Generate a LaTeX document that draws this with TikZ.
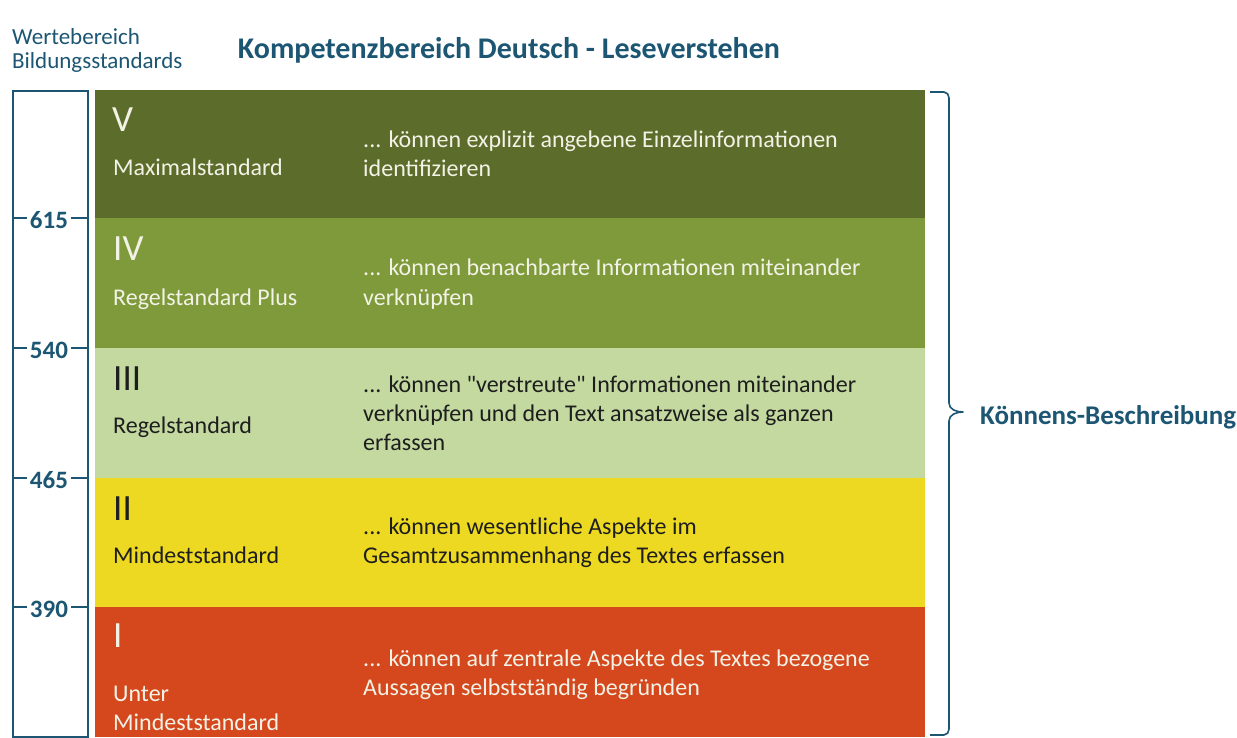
\documentclass[tikz,border=0pt]{standalone}
\usepackage{fontspec}
\setmainfont{Carlito}
\definecolor{tealblue}{HTML}{1C5673}
\definecolor{cV}{HTML}{5C6D2B}
\definecolor{cIV}{HTML}{7F9A3B}
\definecolor{cIII}{HTML}{C3D9A0}
\definecolor{cII}{HTML}{EDD921}
\definecolor{cI}{HTML}{D5471C}
\definecolor{lighttxt}{HTML}{F2F2E6}
\definecolor{darktxt}{HTML}{1E1E1E}
\tikzset{
  band/.style={anchor=north west, inner sep=0pt, minimum width=830pt, draw=none},
  roman/.style={anchor=base west, inner sep=0pt, font=\fontsize{37}{37}\selectfont},
  sname/.style={anchor=base west, inner sep=0pt, font=\fontsize{24}{29}\selectfont, align=left},
  desc/.style={anchor=base west, inner sep=0pt, font=\fontsize{24}{29}\selectfont, align=left},
  ticklbl/.style={fill=white, inner xsep=3pt, inner ysep=1pt, text=tealblue, font=\bfseries\fontsize{25}{25}\selectfont},
  scaleline/.style={draw=tealblue, line width=2.2pt},
}
\begin{document}
\begin{tikzpicture}[x=1pt,y=-1pt]
\useasboundingbox[fill=white] (0,0) rectangle (1237,738);

% headings
\node[anchor=base west, inner sep=0pt, text=tealblue, font=\fontsize{23}{24}\selectfont, align=left] (wb) at (12,69) {Wertebereich\\Bildungsstandards};
\node[anchor=base, inner sep=0pt, text=tealblue, font=\bfseries\fontsize{30}{30}\selectfont] (title) at (509,59) {Kompetenzbereich Deutsch - Leseverstehen};

% bands
\node[band, fill=cV, minimum height=128pt] (bV) at (95,90) {};
\node[band, fill=cIV, minimum height=130pt] (bIV) at (95,218) {};
\node[band, fill=cIII, minimum height=130pt] (bIII) at (95,348) {};
\node[band, fill=cII, minimum height=129pt] (bII) at (95,478) {};
\node[band, fill=cI, minimum height=130pt] (bI) at (95,607) {};

% band V
\node[roman, text=lighttxt] (rV) at (112,132) {V};
\node[sname, text=lighttxt] (nV) at (113,176) {Maximalstandard};
\node[desc, text=lighttxt] (dV) at (363,177) {... können explizit angebene Einzelinformationen\\identifizieren};
% band IV
\node[roman, text=lighttxt] (rIV) at (113,260) {IV};
\node[sname, text=lighttxt] (nIV) at (113,305) {Regelstandard Plus};
\node[desc, text=lighttxt] (dIV) at (363,305) {... können benachbarte Informationen miteinander\\verknüpfen};
% band III
\node[roman, text=darktxt] (rIII) at (113,390) {III};
\node[sname, text=darktxt] (nIII) at (113,433) {Regelstandard};
\node[desc, text=darktxt] (dIII) at (363,450) {... können \textquotedbl verstreute\textquotedbl{} Informationen miteinander\\verknüpfen und den Text ansatzweise als ganzen\\erfassen};
% band II
\node[roman, text=darktxt] (rII) at (113,520) {II};
\node[sname, text=darktxt] (nII) at (113,563) {Mindeststandard};
\node[desc, text=darktxt] (dII) at (363,563) {... können wesentliche Aspekte im\\Gesamtzusammenhang des Textes erfassen};
% band I
\node[roman, text=lighttxt] (rI) at (113,647) {I};
\node[sname, text=lighttxt] (nI) at (113,730) {Unter\\Mindeststandard};
\node[desc, text=lighttxt] (dI) at (363,695) {... können auf zentrale Aspekte des Textes bezogene\\Aussagen selbstständig begründen};

% scale box
\node[scaleline, anchor=north west, inner sep=0pt, minimum width=75pt, minimum height=646pt] (scalebox) at (12,90) {};
\foreach \yy/\lbl/\nm in {218/615/t615, 348/540/t540, 478/465/t465, 607/390/t390}{
  \draw[draw=tealblue, line width=1.2pt] (scalebox.west |- 0,\yy) -- (scalebox.east |- 0,\yy);
  \node[ticklbl] (\nm) at (49,\yy+2) {\lbl};
}

% brace
\coordinate (brtop) at (930,92);
\coordinate (brbot) at (930,735);
\coordinate (brtip) at (963,412);
\draw[draw=tealblue, line width=1.6pt, line join=round]
  (brtop) -- (944,92) to[out=0,in=90] (949,98) -- (949,403)
  to[out=-90,in=180] (brtip) to[out=180,in=90] (949,421)
  -- (949,729) to[out=-90,in=0] (944,735) -- (brbot);
\node[anchor=base west, inner sep=0pt, text=tealblue, font=\bfseries\fontsize{27}{27}\selectfont] (kb) at (980,424) {Könnens-Beschreibung};
\end{tikzpicture}
\end{document}
